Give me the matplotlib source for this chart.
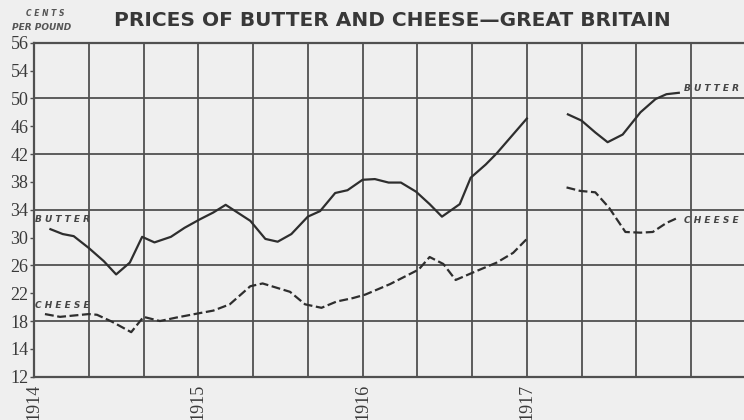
import matplotlib
matplotlib.use("Agg")
import matplotlib.pyplot as plt

# ---- data (x = months since Jan 1914, y = position on the printed scale) ----
butter1_month = [1.2, 2.1, 2.9, 4.0, 5.1, 6.0, 7.0, 7.9, 8.8, 10.0, 11.0, 12.1, 13.1, 14.0,
                 15.8, 16.9, 17.8, 18.8, 20.0, 20.9, 22.0, 22.9, 24.0, 24.9, 25.9, 26.8,
                 27.9, 28.9, 29.8, 31.1, 31.9, 33.0, 33.8, 36.0]
butter1_value = [31.2, 30.5, 30.2, 28.5, 26.6, 24.7, 26.4, 30.1, 29.3, 30.1, 31.4, 32.6, 33.6, 34.7,
                 32.4, 29.8, 29.4, 30.5, 33.0, 33.8, 36.4, 36.8, 38.3, 38.4, 37.9, 37.9,
                 36.6, 34.8, 33.0, 34.8, 38.6, 40.5, 42.1, 47.1]
butter2_month = [39.0, 40.0, 41.0, 41.9, 43.0, 44.3, 45.4, 46.2, 47.1]
butter2_value = [47.7, 46.8, 45.1, 43.7, 44.8, 48.0, 49.9, 50.6, 50.8]

cheese1_month = [0.8, 1.9, 4.0, 4.6, 5.7, 7.1, 8.0, 9.2, 10.4, 12.0, 13.1, 14.3, 15.8, 16.7,
                 18.7, 19.8, 21.0, 22.1, 23.3, 24.2, 26.0, 28.1, 28.9, 29.9, 30.8, 32.1,
                 33.8, 35.0, 36.0]
cheese1_value = [19.0, 18.6, 19.0, 18.9, 17.9, 16.4, 18.6, 18.0, 18.5, 19.1, 19.5, 20.4, 23.0, 23.4,
                 22.2, 20.4, 19.9, 20.8, 21.3, 21.8, 23.3, 25.4, 27.2, 26.2, 23.9, 25.0,
                 26.4, 27.8, 29.8]
cheese2_month = [38.9, 39.9, 41.0, 42.0, 43.2, 44.3, 45.2, 46.2, 47.1]
cheese2_value = [37.2, 36.7, 36.5, 34.3, 30.8, 30.7, 30.8, 32.1, 32.9]

year_labels = ["1914", "1915", "1916", "1917"]
year_months = [0, 12, 24, 36]
y_tick_values = [10, 14, 18, 22, 26, 30, 34, 38, 42, 46, 50, 54, 58]
y_tick_labels = ["12", "14", "18", "22", "26", "30", "34", "38", "42", "46", "50", "54", "56"]

BG = "#efefef"
INK = "#2e2e2e"
GRID = "#505050"

fig = plt.figure(figsize=(7.44, 4.2), dpi=100, facecolor=BG)
ax = fig.add_axes([34 / 744, 1 - 376.7 / 420, 1 - 34 / 744, (376.7 - 42.7) / 420])
ax.set_facecolor(BG)
ax.set_xlim(0, 710 / 13.69)
ax.set_ylim(10, 58)

# grid
for m in range(4, 52, 4):
    ax.axvline(m, color=GRID, lw=1.3, zorder=1)
for v in range(18, 58, 8):
    ax.axhline(v, color=GRID, lw=1.3, zorder=1)

for side in ["left", "bottom", "top"]:
    ax.spines[side].set_color(GRID)
    ax.spines[side].set_linewidth(1.6)
ax.spines["right"].set_visible(False)

# series
ax.plot(butter1_month, butter1_value, color=INK, lw=1.6, zorder=3)
ax.plot(butter2_month, butter2_value, color=INK, lw=1.6, zorder=3)
ax.plot(cheese1_month, cheese1_value, color=INK, lw=1.6, ls=(0, (4, 1.6)), zorder=3)
ax.plot(cheese2_month, cheese2_value, color=INK, lw=1.6, ls=(0, (4, 1.6)), zorder=3)

# ticks
ax.set_yticks(y_tick_values)
ax.set_yticklabels(y_tick_labels, family="Liberation Serif", fontsize=13, color="#3a3a3a")
ax.tick_params(axis="y", length=3, width=1, color=GRID, pad=1)
ax.set_xticks(year_months)
ax.set_xticklabels(year_labels, rotation=90, family="Liberation Serif", fontsize=13,
                   color="#3a3a3a", va="top")
ax.tick_params(axis="x", length=0, pad=5)

# series labels
lab = dict(fontsize=6.5, style="italic", weight="bold", color="#444444", family="DejaVu Sans")
ax.text(0.1, 32.6, "B U T T E R", ha="left", va="center", **lab)
ax.text(0.1, 20.3, "C H E E S E", ha="left", va="center", **lab)
ax.text(47.5, 51.4, "B U T T E R", ha="left", va="center", **lab)
ax.text(47.5, 32.5, "C H E E S E", ha="left", va="center", **lab)

# title and unit
fig.text(392 / 744, 1 - 20 / 420, "PRICES OF BUTTER AND CHEESE\u2014GREAT BRITAIN",
         ha="center", va="center", fontsize=14.5, weight="bold", color="#383838",
         family="DejaVu Sans")
fig.text(45 / 744, 1 - 14 / 420, "C E N T S", ha="center", va="center", fontsize=5.5,
         style="italic", weight="bold", color="#555555")
fig.text(42 / 744, 1 - 28 / 420, "PER POUND", ha="center", va="center", fontsize=6.5,
         style="italic", weight="bold", color="#555555")

fig.savefig("out.png", dpi=100, facecolor=BG)
